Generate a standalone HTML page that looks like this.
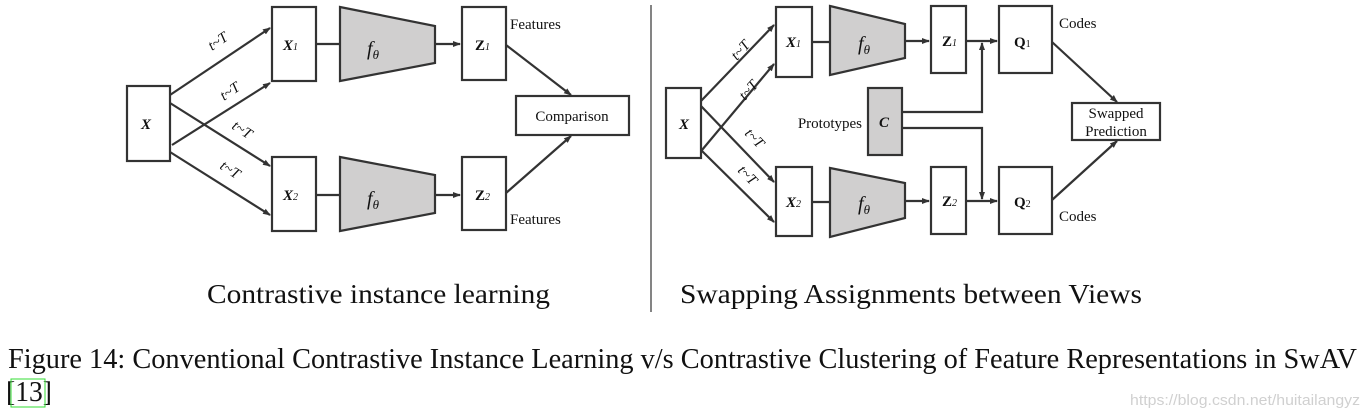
<!DOCTYPE html>
<html><head><meta charset="utf-8"><style>
html,body{margin:0;padding:0;background:#fff;width:1365px;height:416px;overflow:hidden}
svg{display:block}
text{font-family:"Liberation Serif",serif;fill:#111}
</style></head><body>
<svg width="1365" height="416" viewBox="0 0 1365 416">
<defs><marker id="a" markerWidth="8" markerHeight="8" refX="7" refY="4" orient="auto" markerUnits="userSpaceOnUse"><path d="M0,1 L8,4 L0,7 z" fill="#333"/></marker></defs>
<g stroke="#333" stroke-width="2.2" fill="none">
<rect x="127" y="86" width="43" height="75" fill="#fff"/>
<rect x="272" y="7" width="44" height="74" fill="#fff"/>
<rect x="272" y="157" width="44" height="74" fill="#fff"/>
<rect x="462" y="7" width="44" height="73" fill="#fff"/>
<rect x="462" y="157" width="44" height="73" fill="#fff"/>
<rect x="516" y="96" width="113" height="39" fill="#fff"/>
<path d="M340,7 L435,26 L435,63 L340,81 z" fill="#d0cfcf"/>
<path d="M340,157 L435,175 L435,213 L340,231 z" fill="#d0cfcf"/>
<line x1="316" y1="44" x2="340" y2="44"/>
<line x1="316" y1="195" x2="340" y2="195"/>
<line x1="435" y1="44" x2="460" y2="44" marker-end="url(#a)"/>
<line x1="435" y1="195" x2="460" y2="195" marker-end="url(#a)"/>
<line x1="170" y1="95" x2="270" y2="28" marker-end="url(#a)"/>
<line x1="172" y1="145" x2="270" y2="83" marker-end="url(#a)"/>
<line x1="170" y1="103" x2="270" y2="166" marker-end="url(#a)"/>
<line x1="170" y1="152" x2="270" y2="215" marker-end="url(#a)"/>
<line x1="506" y1="45" x2="571" y2="95" marker-end="url(#a)"/>
<line x1="506" y1="193" x2="571" y2="136" marker-end="url(#a)"/>
<line x1="651" y1="5" x2="651" y2="312" stroke-width="1.2"/>
<rect x="666" y="88" width="35" height="70" fill="#fff"/>
<rect x="776" y="7" width="36" height="70" fill="#fff"/>
<rect x="776" y="167" width="36" height="69" fill="#fff"/>
<rect x="931" y="6" width="35" height="67" fill="#fff"/>
<rect x="931" y="167" width="35" height="67" fill="#fff"/>
<rect x="999" y="6" width="53" height="67" fill="#fff"/>
<rect x="999" y="167" width="53" height="67" fill="#fff"/>
<rect x="868" y="88" width="34" height="67" fill="#d0cfcf"/>
<rect x="1072" y="103" width="88" height="37" fill="#fff"/>
<path d="M830,6 L905,24 L905,58 L830,75 z" fill="#d0cfcf"/>
<path d="M830,168 L905,183 L905,218 L830,237 z" fill="#d0cfcf"/>
<line x1="812" y1="42" x2="830" y2="42"/>
<line x1="812" y1="202" x2="830" y2="202"/>
<line x1="905" y1="41" x2="929" y2="41" marker-end="url(#a)"/>
<line x1="905" y1="201" x2="929" y2="201" marker-end="url(#a)"/>
<line x1="966" y1="41" x2="997" y2="41" marker-end="url(#a)"/>
<line x1="966" y1="201" x2="997" y2="201" marker-end="url(#a)"/>
<polyline points="902,112 982,112 982,43" marker-end="url(#a)"/>
<polyline points="902,128 982,128 982,199" marker-end="url(#a)"/>
<line x1="701" y1="101" x2="774" y2="25" marker-end="url(#a)"/>
<line x1="702" y1="150" x2="774" y2="64" marker-end="url(#a)"/>
<line x1="701" y1="106" x2="774" y2="182" marker-end="url(#a)"/>
<line x1="701" y1="150" x2="774" y2="222" marker-end="url(#a)"/>
<line x1="1052" y1="42" x2="1117" y2="102" marker-end="url(#a)"/>
<line x1="1052" y1="200" x2="1117" y2="141" marker-end="url(#a)"/>
</g>
<g font-size="15">
<text x="141" y="129" font-weight="bold" font-style="italic">X</text>
<text x="283" y="50" font-weight="bold" font-style="italic">X<tspan font-size="10" font-weight="normal">1</tspan></text>
<text x="283" y="200" font-weight="bold" font-style="italic">X<tspan font-size="10" font-weight="normal">2</tspan></text>
<text x="475" y="50" font-weight="bold">Z<tspan font-size="10" font-weight="normal" font-style="italic">1</tspan></text>
<text x="475" y="200" font-weight="bold">Z<tspan font-size="10" font-weight="normal" font-style="italic">2</tspan></text>
<text x="367" y="55" font-size="20" font-style="italic">f<tspan font-size="13" dy="4">θ</tspan></text>
<text x="367" y="205" font-size="20" font-style="italic">f<tspan font-size="13" dy="4">θ</tspan></text>
<text x="510" y="29" font-size="15">Features</text>
<text x="510" y="224" font-size="15">Features</text>
<text x="572" y="121" font-size="15" text-anchor="middle">Comparison</text>
<text font-size="15" font-style="italic" transform="translate(212,51) rotate(-34)">t~T</text>
<text font-size="15" font-style="italic" transform="translate(224,101) rotate(-34)">t~T</text>
<text font-size="15" font-style="italic" transform="translate(231,128) rotate(33)">t~T</text>
<text font-size="15" font-style="italic" transform="translate(219,168) rotate(33)">t~T</text>

<text x="679" y="129" font-weight="bold" font-style="italic">X</text>
<text x="786" y="47" font-weight="bold" font-style="italic">X<tspan font-size="10" font-weight="normal">1</tspan></text>
<text x="786" y="207" font-weight="bold" font-style="italic">X<tspan font-size="10" font-weight="normal">2</tspan></text>
<text x="942" y="46" font-weight="bold">Z<tspan font-size="10" font-weight="normal" font-style="italic">1</tspan></text>
<text x="942" y="206" font-weight="bold">Z<tspan font-size="10" font-weight="normal" font-style="italic">2</tspan></text>
<text x="1014" y="47" font-weight="bold">Q<tspan font-size="10" font-weight="normal">1</tspan></text>
<text x="1014" y="207" font-weight="bold">Q<tspan font-size="10" font-weight="normal">2</tspan></text>
<text x="879" y="127" font-weight="bold" font-style="italic">C</text>
<text x="862" y="128" font-size="15" text-anchor="end">Prototypes</text>
<text x="858" y="50" font-size="20" font-style="italic">f<tspan font-size="13" dy="4">θ</tspan></text>
<text x="858" y="210" font-size="20" font-style="italic">f<tspan font-size="13" dy="4">θ</tspan></text>
<text x="1059" y="28" font-size="15">Codes</text>
<text x="1059" y="221" font-size="15">Codes</text>
<text x="1116" y="118" font-size="15" text-anchor="middle">Swapped</text>
<text x="1116" y="136" font-size="15" text-anchor="middle">Prediction</text>
<text font-size="15" font-style="italic" transform="translate(737,61) rotate(-48)">t~T</text>
<text font-size="15" font-style="italic" transform="translate(745,101) rotate(-48)">t~T</text>
<text font-size="15" font-style="italic" transform="translate(744,134) rotate(46)">t~T</text>
<text font-size="15" font-style="italic" transform="translate(737,171) rotate(46)">t~T</text>
</g>
<text x="207" y="303" font-size="27" textLength="343" lengthAdjust="spacingAndGlyphs">Contrastive instance learning</text>
<text x="680" y="303" font-size="27" textLength="462" lengthAdjust="spacingAndGlyphs">Swapping Assignments between Views</text>
<text x="8" y="368" font-size="28" textLength="1349" lengthAdjust="spacingAndGlyphs">Figure 14: Conventional Contrastive Instance Learning v/s Contrastive Clustering of Feature Representations in SwAV</text>
<text x="6" y="401" font-size="28" textLength="46" lengthAdjust="spacingAndGlyphs">[13]</text>
<rect x="11" y="379" width="34" height="28" fill="none" stroke="#33dd33" stroke-width="1"/>
<text x="1130" y="405" font-size="15" style="font-family:'Liberation Sans',sans-serif;fill:#d0d0d0" textLength="230" lengthAdjust="spacingAndGlyphs">https://blog.csdn.net/huitailangyz</text>
</svg>
</body></html>
